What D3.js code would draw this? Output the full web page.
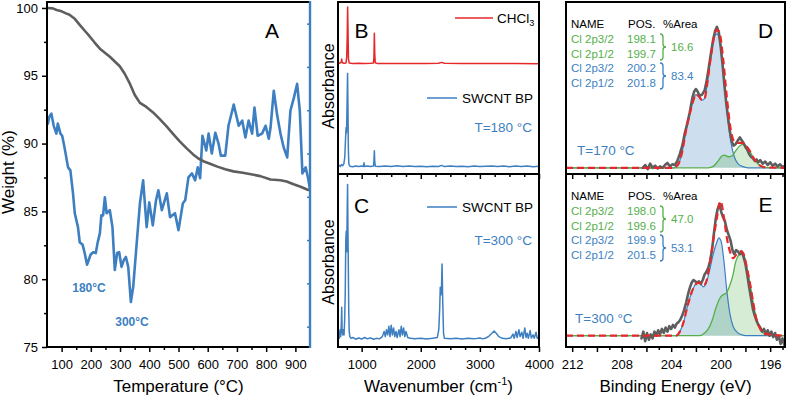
<!DOCTYPE html>
<html>
<head>
<meta charset="utf-8">
<script src="https://cdn.jsdelivr.net/npm/d3@7"></script>
<style>
  body { margin: 0; background: #fff; }
  svg { display: block; font-family: Arial, "Liberation Sans", sans-serif; }
  .axis text { fill: #000; font-size: 13px; font-family: Arial, "Liberation Sans", sans-serif; }
  .axis line { stroke-width: 1.5px; }
</style>
</head>
<body>
<svg id="chart" width="789" height="400"></svg>
<script>
// ---- panel A: TGA (weight %) and its derivative (blue, right axis) ----
const tgaCurve = [[50,100.0],[70,99.97],[83,99.85],[100,99.75],[115,99.6],[127,99.5],[145,99.2],[162,98.75],[180,98.3],
    [196,97.9],[213,97.45],[231,97.0],[248,96.7],[265,96.4],[282,96.05],[299,95.7],[316,95.15],[334,94.4],[350,93.6],
    [368,93.0],[390,92.7],[413,92.3],[436,91.8],[460,91.25],[482,90.7],[505,90.15],[528,89.65],[550,89.2],[568,88.9],
    [585,88.7],[610,88.5],[633,88.3],[660,88.1],[688,87.95],[720,87.85],[757,87.7],[780,87.6],[815,87.35],[849,87.3],
    [870,87.2],[894,87.0],[920,86.8],[942,86.6],[950,86.55]];

const dtgCurve = [[50,4.69],[53,4.69],[58,4.85],[65,4.92],[73,4.64],[82,4.46],[87,4.69],[96,4.46],[102,4.41],[110,4.14],
    [122,3.68],[130,3.61],[139,3.08],[145,2.62],[156,2.30],[162,1.95],[172,1.89],[179,1.70],[187,1.43],[199,1.66],
    [208,1.72],[217,1.70],[223,1.93],[231,2.16],[236,2.57],[242,2.57],[248,2.99],[254,2.62],[265,2.69],[274,2.30],
    [282,1.31],[290,1.70],[297,1.72],[305,1.38],[313,1.54],[320,1.61],[328,1.38],[337,0.57],[345,0.92],[357,1.93],
    [368,2.85],[379,3.38],[391,2.30],[400,2.87],[412,2.34],[423,2.92],[431,3.15],[443,2.69],[460,3.08],[471,2.53],
    [488,2.62],[500,2.23],[515,2.85],[523,2.92],[534,3.45],[546,3.54],[557,3.38],[566,3.68],[574,3.43],[582,4.41],
    [595,4.07],[603,4.46],[614,4.00],[626,4.48],[637,4.23],[645,3.95],[660,3.95],[671,4.64],[689,5.13],[706,4.64],
    [718,4.76],[729,4.37],[740,4.76],[752,4.46],[760,5.06],[771,4.41],[786,4.46],[798,4.64],[809,4.34],[815,4.60],
    [826,5.45],[838,4.87],[849,4.46],[860,4.14],[872,3.91],[883,4.99],[895,5.29],[906,5.61],[915,4.99],[924,3.54],
    [935,3.68],[943,3.45],[952,3.08]];

const dtgMarks = ['180°C', '300°C'];

// ---- panels B, C: IR spectra ----
const chcl3Offset = 0.6;
const chcl3 = [[600,0.045],[630,0.044],[655,0.05],[663,0.068],[670,0.048],[700,0.044],[735,0.046],[748,0.08],[756,0.2],
    [763,0.371],[770,0.22],[777,0.07],[790,0.045],[850,0.043],[950,0.044],[1050,0.043],[1150,0.044],[1200,0.046],
    [1208,0.08],[1215,0.219],[1222,0.1],[1230,0.047],[1260,0.043],[1500,0.043],[1800,0.042],[2100,0.043],[2300,0.044],
    [2350,0.049],[2400,0.044],[2700,0.042],[3000,0.043],[3300,0.042],[3600,0.042],[4000,0.041]];

const swcnt180 = [[600,0.045],[620,0.05],[640,0.044],[660,0.055],[680,0.048],[700,0.06],[715,0.1],[727,0.2],[737,0.27],
    [745,0.24],[753,0.4],[762,0.585],[768,0.4],[775,0.15],[783,0.06],[800,0.045],[850,0.042],[900,0.047],[950,0.043],
    [1000,0.046],[1030,0.044],[1040,0.065],[1050,0.044],[1100,0.046],[1150,0.043],[1200,0.046],[1208,0.075],[1215,0.135],
    [1222,0.07],[1232,0.045],[1300,0.043],[1400,0.047],[1500,0.044],[1600,0.048],[1700,0.043],[1800,0.046],[1900,0.043],
    [2000,0.045],[2100,0.042],[2200,0.045],[2300,0.044],[2350,0.05],[2400,0.043],[2500,0.046],[2600,0.043],[2700,0.045],
    [2800,0.042],[2900,0.046],[3000,0.043],[3100,0.045],[3200,0.047],[3300,0.043],[3400,0.046],[3500,0.042],[3600,0.047],
    [3700,0.043],[3800,0.046],[3900,0.042],[4000,0.045]];

const swcnt300 = [[600,0.05],[612,0.09],[622,0.05],[635,0.1],[645,0.06],[655,0.12],[663,0.23],[670,0.09],[680,0.07],
    [692,0.1],[702,0.07],[712,0.15],[722,0.3],[732,0.62],[740,0.67],[748,0.55],[756,0.8],[762,0.94],[768,0.7],[775,0.45],
    [782,0.2],[790,0.09],[800,0.06],[820,0.05],[850,0.055],[900,0.045],[950,0.052],[1000,0.046],[1050,0.055],[1100,0.047],
    [1150,0.053],[1200,0.045],[1250,0.05],[1300,0.047],[1350,0.06],[1380,0.09],[1400,0.06],[1420,0.1],[1440,0.07],
    [1460,0.12],[1480,0.06],[1500,0.126],[1520,0.07],[1540,0.11],[1560,0.06],[1580,0.09],[1600,0.055],[1630,0.1],
    [1650,0.06],[1670,0.12],[1690,0.07],[1710,0.11],[1730,0.06],[1750,0.09],[1780,0.055],[1820,0.05],[1900,0.047],
    [2000,0.05],[2100,0.046],[2200,0.05],[2280,0.055],[2305,0.1],[2320,0.22],[2330,0.345],[2340,0.3],[2350,0.33],
    [2360,0.48],[2372,0.26],[2385,0.08],[2400,0.05],[2500,0.047],[2600,0.05],[2700,0.046],[2800,0.051],[2900,0.047],
    [3000,0.052],[3050,0.047],[3100,0.052],[3150,0.062],[3200,0.078],[3240,0.092],[3280,0.078],[3320,0.06],[3380,0.05],
    [3450,0.048],[3520,0.052],[3560,0.075],[3580,0.05],[3610,0.09],[3630,0.055],[3660,0.1],[3680,0.06],[3710,0.085],
    [3730,0.05],[3760,0.11],[3780,0.055],[3800,0.08],[3820,0.05],[3850,0.095],[3870,0.052],[3900,0.07],[3920,0.05],
    [3950,0.085],[3970,0.05],[4000,0.06]];

// ---- panels D, E: Cl 2p XPS ----
const xpsNames = ['Cl 2p3/2', 'Cl 2p1/2', 'Cl 2p3/2', 'Cl 2p1/2'];
const posD = ['198.1', '199.7', '200.2', '201.8'];
const areaD = ['16.6', '83.4'];
const posE = ['198.0', '199.6', '199.9', '201.5'];
const areaE = ['47.0', '53.1'];

const rawD = [[206.3,0.0],[206.1,0.02],[205.9,-0.01],[205.7,0.03],[205.5,0.0],[205.3,0.015],[205.1,-0.005],[204.9,0.01],
    [204.7,0.0],[204.5,0.02],[204.3,0.035],[204.1,0.01],[203.9,0.025],[203.7,0.02],[203.5,0.05],[203.3,0.1],[203.1,0.16],
    [202.9,0.25],[202.7,0.32],[202.5,0.4],[202.3,0.5],[202.15,0.55],[202.0,0.57],[201.85,0.55],[201.7,0.52],[201.5,0.53],
    [201.3,0.56],[201.15,0.62],[201.0,0.7],[200.8,0.82],[200.6,0.93],[200.45,0.99],[200.3,1.02],[200.15,0.98],[200.0,0.88],
    [199.85,0.75],[199.7,0.6],[199.55,0.47],[199.4,0.36],[199.25,0.26],[199.1,0.19],[198.95,0.16],[198.8,0.17],[198.6,0.2],
    [198.45,0.22],[198.3,0.2],[198.15,0.18],[198.0,0.15],[197.85,0.13],[197.7,0.1],[197.55,0.08],[197.4,0.07],[197.25,0.05],
    [197.1,0.06],[196.95,0.04],[196.8,0.055],[196.6,0.03],[196.4,0.045],[196.2,0.02],[196.0,0.04],[195.8,0.015],
    [195.6,0.03],[195.4,0.01],[195.2,0.025],[195.0,0.005],[194.8,0.015]];
const blueD = [[212.5,0],[203.8,0],[203.4,0.03],[203.1,0.12],[202.8,0.27],[202.5,0.39],[202.2,0.49],[202.0,0.53],[201.8,0.52],
    [201.5,0.49],[201.3,0.5],[201.1,0.6],[200.8,0.8],[200.5,0.95],[200.3,0.97],[200.1,0.93],[199.8,0.7],[199.5,0.42],
    [199.2,0.2],[198.9,0.08],[198.6,0.03],[198.2,0.008],[197.8,0],[194.8,0]];
const greenD = [[212.5,0],[201.0,0],[200.6,0.01],[200.2,0.05],[199.9,0.085],[199.7,0.092],[199.4,0.08],[199.1,0.085],
    [198.8,0.12],[198.5,0.155],[198.2,0.17],[198.0,0.165],[197.7,0.13],[197.4,0.08],[197.1,0.04],[196.8,0.015],
    [196.4,0.003],[194.8,0]];
const envD = [[212.5,0],[203.8,0],[203.4,0.03],[203.1,0.12],[202.8,0.27],[202.5,0.39],[202.2,0.49],[202.0,0.53],[201.8,0.52],
    [201.5,0.49],[201.3,0.5],[201.1,0.6],[200.8,0.8],[200.5,0.96],[200.3,1.0],[200.1,0.98],[199.8,0.79],[199.5,0.51],
    [199.2,0.285],[198.9,0.19],[198.6,0.18],[198.3,0.18],[198.0,0.165],[197.7,0.13],[197.4,0.08],[197.1,0.04],
    [196.8,0.015],[196.4,0.003],[194.8,0]];

const rawE = [[206.4,-0.02],[206.25,0.03],[206.1,-0.04],[205.95,0.02],[205.8,-0.03],[205.65,0.01],[205.5,-0.02],[205.35,0.03],
    [205.2,0.0],[205.05,0.04],[204.9,0.01],[204.75,0.05],[204.6,0.02],[204.45,0.06],[204.3,0.03],[204.15,0.07],[204.0,0.05],
    [203.85,0.08],[203.7,0.06],[203.55,0.09],[203.4,0.1],[203.25,0.12],[203.1,0.15],[202.95,0.19],[202.8,0.24],[202.65,0.3],
    [202.5,0.35],[202.35,0.39],[202.2,0.41],[202.05,0.4],[201.9,0.39],[201.75,0.4],[201.6,0.38],[201.45,0.41],[201.3,0.45],
    [201.15,0.47],[201.0,0.5],[200.85,0.55],[200.7,0.63],[200.55,0.75],[200.4,0.86],[200.25,0.93],[200.1,0.97],[199.95,0.91],
    [199.8,0.87],[199.65,0.84],[199.5,0.78],[199.35,0.74],[199.2,0.7],[199.05,0.63],[198.9,0.6],[198.75,0.63],[198.6,0.62],
    [198.45,0.6],[198.3,0.62],[198.15,0.58],[198.0,0.53],[197.85,0.45],[197.7,0.36],[197.55,0.28],[197.4,0.2],[197.25,0.15],
    [197.1,0.11],[196.95,0.08],[196.8,0.06],[196.65,0.03],[196.5,0.05],[196.35,0.01],[196.2,0.04],[196.05,0.0],[195.9,0.03],
    [195.75,-0.01],[195.6,0.02],[195.45,-0.03],[195.3,0.0],[195.15,-0.06],[195.0,-0.02],[194.85,-0.07],[194.8,-0.06]];
const blueE = [[212.5,0],[203.6,0],[203.3,0.03],[203.0,0.10],[202.7,0.21],[202.3,0.33],[202.0,0.38],[201.7,0.39],[201.4,0.36],
    [201.2,0.38],[200.9,0.48],[200.6,0.6],[200.3,0.69],[200.15,0.72],[199.95,0.69],[199.75,0.56],[199.5,0.33],[199.25,0.16],
    [199.0,0.07],[198.6,0.02],[198.2,0.004],[197.8,0],[194.8,0]];
const greenE = [[212.5,0],[201.7,0],[201.3,0.02],[201.0,0.05],[200.7,0.11],[200.4,0.2],[200.1,0.27],[199.85,0.30],[199.6,0.31],
    [199.3,0.36],[199.0,0.45],[198.8,0.54],[198.5,0.60],[198.3,0.62],[198.1,0.59],[197.9,0.51],[197.6,0.37],[197.4,0.26],
    [197.1,0.12],[196.8,0.05],[196.5,0.015],[196.1,0.003],[194.8,0]];
const envE = [[212.5,0],[203.6,0],[203.3,0.03],[203.0,0.10],[202.7,0.21],[202.3,0.33],[202.0,0.38],[201.7,0.39],[201.4,0.37],
    [201.2,0.39],[200.9,0.52],[200.6,0.70],[200.3,0.87],[200.15,0.95],[200.0,0.99],[199.75,0.88],[199.5,0.72],[199.25,0.62],
    [199.0,0.57],[198.7,0.6],[198.4,0.62],[198.2,0.61],[197.9,0.51],[197.6,0.37],[197.4,0.26],[197.1,0.12],[196.8,0.05],
    [196.5,0.015],[194.8,0]];

const tempTicks = [100, 200, 300, 400, 500, 600, 700, 800, 900];
const weightTicks = [75, 80, 85, 90, 95, 100];
const waveTicks = [1000, 2000, 3000, 4000];
const energyTicks = [212, 208, 204, 200, 196];

const BLUE = '#3d7fc1', RED = '#e6282b', GREEN = '#55b04a', GRAY = '#5e5e5e';

const svg = d3.select('#chart');
const yTop = 2, yMid = 174, yBot = 347;

const xA = d3.scaleLinear([50, 950], [47, 310]);
const yA = d3.scaleLinear([75, 100.44], [yBot, yTop]);
const yR = d3.scaleLinear([-0.47, 7.5], [yBot, yTop]);
const xIR = d3.scaleLinear([600, 4000], [338, 539]);
const yB = d3.scaleLinear([0, 1], [yMid, yTop]);
const yC = d3.scaleLinear([0, 1], [yBot, yMid]);
const xBE = d3.scaleLinear([212.5, 194.8], [566, 785]);
const yD = d3.scaleLinear([-0.045, 1.2], [yMid, yTop]);
const yE = d3.scaleLinear([-0.083, 1.19], [yBot, yMid]);

function clip(id, x0, y0, x1, y1){
    svg.append('clipPath').attr('id', id).append('rect')
        .attr('x', x0).attr('y', y0).attr('width', x1 - x0).attr('height', y1 - y0);
    return svg.append('g').attr('clip-path', `url(#${id})`);
}

function axis(gen, x, y, values, size, fmt, pad){
    let g = svg.append('g').attr('class', 'axis').attr('transform', `translate(${x},${y})`)
        .call(gen.tickValues(values).tickSize(size).tickSizeOuter(0).tickPadding(pad || 3).tickFormat(fmt || (() => '')));
    g.select('.domain').remove();
    return g;
}

function path(g, data, x, y, color, width, curve){
    let line = d3.line().x(d => x(d[0])).y(d => y(d[1]));
    if(curve) line.curve(curve);
    return g.append('path').attr('d', line(data)).attr('fill', 'none')
        .attr('stroke', color).attr('stroke-width', width)
        .attr('stroke-linejoin', 'round').attr('stroke-linecap', 'round');
}

function label(x, y, txt, opts){
    opts = opts || {};
    return svg.append('text').attr('x', x).attr('y', y)
        .attr('font-size', opts.size || 13).attr('fill', opts.color || '#000')
        .attr('text-anchor', opts.anchor || 'start')
        .attr('font-weight', opts.weight || 'normal')
        .text(txt);
}

function rotLabel(x, y, txt, size){
    svg.append('text').attr('transform', `translate(${x},${y}) rotate(-90)`)
        .attr('text-anchor', 'middle').attr('font-size', size).text(txt);
}

function brace(x, y0, y1, color){
    let w = 6, r = 3, ym = (y0 + y1) / 2;
    let d = `M ${x} ${y0} q ${w/2} 0 ${w/2} ${r} L ${x + w/2} ${ym - r} q 0 ${r} ${w/2} ${r}`
          + ` q ${-w/2} 0 ${-w/2} ${r} L ${x + w/2} ${y1 - r} q 0 ${r} ${-w/2} ${r}`;
    svg.append('path').attr('d', d).attr('fill', 'none').attr('stroke', color).attr('stroke-width', 1.3);
}

// ================= panel A =================
let gA = clip('clipA', 47, yTop, 310, yBot);
path(gA, dtgCurve, xA, yR, BLUE, 2.6);
path(gA, tgaCurve, xA, yA, GRAY, 2.6);

axis(d3.axisBottom(xA), 0, yBot, tempTicks, 5, d3.format('d'), 8);
axis(d3.axisBottom(xA), 0, yBot, d3.range(150, 950, 100), 3);
axis(d3.axisLeft(yA), 47, 0, weightTicks, 5, d3.format('d'), 4);
axis(d3.axisLeft(yA), 47, 0, d3.range(77.5, 100, 5), 3);
axis(d3.axisLeft(yR), 310, 0, d3.range(0, 8), 3).selectAll('line').attr('stroke', BLUE);

svg.append('path').attr('d', `M 310 ${yTop} L 47 ${yTop} L 47 ${yBot} L 310 ${yBot}`)
    .attr('fill', 'none').attr('stroke', '#000').attr('stroke-width', 2).attr('stroke-linecap', 'square');
svg.append('line').attr('x1', 310).attr('x2', 310).attr('y1', yTop - 1).attr('y2', yBot + 1)
    .attr('stroke', BLUE).attr('stroke-width', 2.4);

label(272, 38, 'A', {size: 21, anchor: 'middle'});
rotLabel(14, 172, 'Weight (%)', 17);
label(178.5, 392, 'Temperature (°C)', {size: 17, anchor: 'middle'});
label(89, 291.5, dtgMarks[0], {size: 12, anchor: 'middle', color: BLUE, weight: 'bold'});
label(132, 325.5, dtgMarks[1], {size: 12, anchor: 'middle', color: BLUE, weight: 'bold'});

// ================= panels B and C =================
let gB = clip('clipB', 338, yTop, 539, yMid);
path(gB, chcl3.map(d => [d[0], d[1] + chcl3Offset]), xIR, yB, RED, 1.5);
path(gB, swcnt180, xIR, yB, BLUE, 1.5);
let gC = clip('clipC', 338, yMid, 539, yBot);
path(gC, swcnt300, xIR, yC, BLUE, 1.5);

let minorWave = d3.range(750, 4000, 250).filter(v => v % 1000 !== 0);
axis(d3.axisBottom(xIR), 0, yBot, waveTicks, 5, d3.format('d'), 8);
axis(d3.axisBottom(xIR), 0, yBot, minorWave, 3);
axis(d3.axisBottom(xIR), 0, yMid, waveTicks, 5);
axis(d3.axisBottom(xIR), 0, yMid, minorWave, 3);

svg.append('rect').attr('x', 338).attr('y', yTop).attr('width', 539 - 338).attr('height', yBot - yTop)
    .attr('fill', 'none').attr('stroke', '#000').attr('stroke-width', 2);
svg.append('line').attr('x1', 338).attr('x2', 539).attr('y1', yMid).attr('y2', yMid)
    .attr('stroke', '#000').attr('stroke-width', 2);

label(361.5, 38, 'B', {size: 21, anchor: 'middle'});
label(361.5, 213, 'C', {size: 21, anchor: 'middle'});
rotLabel(334, 86, 'Absorbance', 16);
rotLabel(334, 262, 'Absorbance', 16);

svg.append('line').attr('x1', 455).attr('x2', 493).attr('y1', 18).attr('y2', 18).attr('stroke', RED).attr('stroke-width', 1.5);
let chLabel = label(497, 23, 'CHCl', {size: 13.5});
chLabel.append('tspan').attr('font-size', 9).attr('dy', 3).text('3');

[[98, 'T=180 °C', 132], [207, 'T=300 °C', 245]].forEach(([ly, tTxt, ty]) => {
    svg.append('line').attr('x1', 427).attr('x2', 457).attr('y1', ly).attr('y2', ly).attr('stroke', BLUE).attr('stroke-width', 1.5);
    label(462, ly + 5, 'SWCNT BP', {size: 13.5});
    label(532, ty, tTxt, {size: 13.5, anchor: 'end', color: BLUE});
});

let waveLabel = label(438.5, 392, 'Wavenumber (cm', {size: 17, anchor: 'middle'});
waveLabel.append('tspan').attr('font-size', 11).attr('dy', -7).text('-1');
waveLabel.append('tspan').attr('dy', 7).text(')');

// ================= panels D and E =================
function xpsPanel(id, y, y0, y1, blue, green, env, raw){
    let g = clip(id, 566, y0, 785, y1);
    let area = d3.area().x(d => xBE(d[0])).y0(y(0)).y1(d => y(d[1])).curve(d3.curveMonotoneX);
    g.append('path').attr('d', area(blue)).attr('fill', BLUE).attr('fill-opacity', 0.26);
    g.append('path').attr('d', area(green)).attr('fill', GREEN).attr('fill-opacity', 0.24);
    path(g, blue, xBE, y, BLUE, 1.2, d3.curveMonotoneX);
    path(g, green, xBE, y, GREEN, 1.3, d3.curveMonotoneX);
    path(g, raw, xBE, y, GRAY, 2.6);
    path(g, env, xBE, y, RED, 2.2, d3.curveMonotoneX).attr('stroke-dasharray', '7,4').attr('stroke-linecap', 'butt');
}
xpsPanel('clipD', yD, yTop, yMid, blueD, greenD, envD, rawD);
xpsPanel('clipE', yE, yMid, yBot, blueE, greenE, envE, rawE);

function xpsTable(t, pos, area){
    let rows = [22, 37, 51.5, 66, 80.5].map(v => t + v + 4);
    label(571, rows[0], 'NAME', {size: 11.5});
    label(628, rows[0], 'POS.', {size: 11.5});
    label(663, rows[0], '%Area', {size: 11.5});
    xpsNames.forEach((n, i) => {
        let c = i < 2 ? GREEN : BLUE;
        label(571, rows[i + 1], n, {size: 11.5, color: c});
        label(627, rows[i + 1], pos[i], {size: 11.5, color: c});
    });
    brace(660, t + 32, t + 58, GREEN);
    brace(660, t + 61, t + 87, BLUE);
    label(671, t + 45 + 4, area[0], {size: 11.5, color: GREEN});
    label(671, t + 74 + 4, area[1], {size: 11.5, color: BLUE});
}
xpsTable(yTop, posD, areaD);
xpsTable(yMid, posE, areaE);

let majorE = d3.range(196, 213, 2), minorE = d3.range(195, 212, 2);
axis(d3.axisBottom(xBE), 0, yBot, majorE, 5, d => energyTicks.includes(d) ? d : '', 8);
axis(d3.axisBottom(xBE), 0, yBot, minorE, 3);
axis(d3.axisBottom(xBE), 0, yMid, majorE, 5);
axis(d3.axisBottom(xBE), 0, yMid, minorE, 3);

svg.append('rect').attr('x', 566).attr('y', yTop).attr('width', 785 - 566).attr('height', yBot - yTop)
    .attr('fill', 'none').attr('stroke', '#000').attr('stroke-width', 2);
svg.append('line').attr('x1', 566).attr('x2', 785).attr('y1', yMid).attr('y2', yMid)
    .attr('stroke', '#000').attr('stroke-width', 2);

label(765.5, 38, 'D', {size: 21, anchor: 'middle'});
label(765.5, 212, 'E', {size: 21, anchor: 'middle'});
label(577, 155, 'T=170 °C', {size: 13.5, color: BLUE});
label(575, 323, 'T=300 °C', {size: 13.5, color: BLUE});
label(675.5, 392, 'Binding Energy (eV)', {size: 17, anchor: 'middle'});
</script>
